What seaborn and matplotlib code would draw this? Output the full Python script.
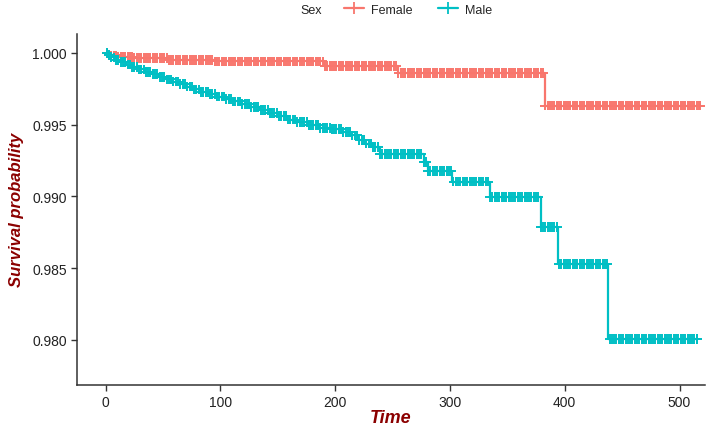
import numpy as np
import pandas as pd
import seaborn as sns
import matplotlib.pyplot as plt
from matplotlib.lines import Line2D

# Kaplan-Meier step data
female_time = [0, 3, 10, 25, 55, 95, 190, 255, 383, 518]
female_surv = [1.0, 0.99982, 0.99972, 0.99963, 0.99952, 0.9994, 0.99907, 0.99861, 0.99633, 0.99633]

male_time = [0, 2, 5, 9, 13, 18, 23, 28, 34, 40, 46, 52, 58, 64, 70, 76, 83, 90, 97, 104,
             111, 118, 126, 134, 142, 150, 158, 166, 176, 186, 196, 206, 214, 220, 226, 233,
             239, 277, 281, 302, 335, 379, 394, 438, 515]
male_surv = [1.0, 0.99985, 0.99968, 0.9995, 0.99935, 0.99918, 0.99902, 0.99885, 0.99868, 0.99851,
             0.99833, 0.99815, 0.998, 0.99783, 0.99765, 0.99745, 0.99728, 0.99712, 0.99695, 0.99678,
             0.99662, 0.99642, 0.99622, 0.99602, 0.99582, 0.99562, 0.99535, 0.99518, 0.99498, 0.99478,
             0.99468, 0.9945, 0.99425, 0.99395, 0.99368, 0.99345, 0.99296, 0.99238, 0.99179, 0.99103,
             0.98994, 0.98787, 0.98527, 0.98006, 0.98006]

# censoring times (marks drawn as "+")
censor_times = [1, 3, 5, 7, 9, 11, 13, 15, 17, 19, 21, 23, 25, 27, 29, 31, 33, 35, 37, 39,
                41, 43, 45, 47, 49, 51, 53, 55, 57, 59, 61, 63, 65, 67, 69, 71, 73, 75, 77, 79,
                81, 83, 85, 87, 89, 91, 93, 95, 97, 99, 101, 103, 105, 107, 109, 111, 113, 115, 117, 119,
                121, 123, 125, 127, 129, 131, 133, 135, 137, 139, 141, 143, 145, 147, 149, 151, 153, 155, 157, 159,
                161, 163, 165, 167, 169, 171, 173, 175, 177, 179, 181, 183, 185, 187, 189, 191, 193, 195, 197, 199,
                201, 203, 205, 207, 209, 211, 213, 215, 217, 219, 221, 223, 225, 227, 229, 231, 233, 235, 237, 239,
                241, 243, 245, 247, 249, 251, 253, 255, 257, 259, 261, 263, 265, 267, 269, 271, 273, 275, 277, 279,
                281, 283, 285, 287, 289, 291, 293, 295, 297, 299, 301, 303, 305, 307, 309, 311, 313, 315, 317, 319,
                321, 323, 325, 327, 329, 331, 333, 335, 337, 339, 341, 343, 345, 347, 349, 351, 353, 355, 357, 359,
                361, 363, 365, 367, 369, 371, 373, 375, 377, 379, 381, 383, 385, 387, 389, 391, 393, 395, 397, 399,
                401, 403, 405, 407, 409, 411, 413, 415, 417, 419, 421, 423, 425, 427, 429, 431, 433, 435, 437, 439,
                441, 443, 445, 447, 449, 451, 453, 455, 457, 459, 461, 463, 465, 467, 469, 471, 473, 475, 477, 479,
                481, 483, 485, 487, 489, 491, 493, 495, 497, 499, 501, 503, 505, 507, 509, 511, 513, 515, 517]

groups = ['Female', 'Male']
colors = {'Female': '#F8766D', 'Male': '#00BFC4'}

curves = pd.concat([
    pd.DataFrame({'Time': female_time, 'Surv': female_surv, 'Sex': 'Female'}),
    pd.DataFrame({'Time': male_time, 'Surv': male_surv, 'Sex': 'Male'}),
])

def censor_points(times, surv, name):
    times = np.array(times)
    surv = np.array(surv)
    ct = np.array([c for c in censor_times if c <= times[-1]] + [times[-1]])
    idx = np.searchsorted(times, ct, side='right') - 1
    return pd.DataFrame({'Time': ct, 'Surv': surv[idx], 'Sex': name})

marks = pd.concat([
    censor_points(female_time, female_surv, 'Female'),
    censor_points(male_time, male_surv, 'Male'),
])

sns.set_theme(style='ticks')
plt.rcParams['font.family'] = ['Liberation Sans', 'DejaVu Sans']

fig = plt.figure(figsize=(7.09, 4.31), dpi=100)
ax = fig.add_axes([0.109, 0.105, 0.885, 0.814])

sns.lineplot(data=curves, x='Time', y='Surv', hue='Sex', palette=colors,
             estimator=None, drawstyle='steps-post', linewidth=1.6, legend=False, ax=ax)
sns.scatterplot(data=marks, x='Time', y='Surv', hue='Sex', palette=colors,
                marker='+', s=48, linewidth=1.4, legend=False, ax=ax, zorder=3)

ax.set_xlim(-24.8, 522)
ax.set_ylim(0.97688, 1.00132)
ax.set_xticks([0, 100, 200, 300, 400, 500])
ax.set_yticks([0.980, 0.985, 0.990, 0.995, 1.000])
ax.set_yticklabels(['0.980', '0.985', '0.990', '0.995', '1.000'])
ax.tick_params(axis='both', labelsize=10, colors='#333333', length=4, width=1, labelcolor='#222222')
for side in ['left', 'bottom']:
    ax.spines[side].set_color('#333333')
    ax.spines[side].set_linewidth(1.1)
sns.despine(ax=ax)

ax.set_xlabel('Time', fontsize=13, fontweight='bold', fontstyle='italic', color='#8B0000', labelpad=0)
ax.set_ylabel('Survival probability', fontsize=12, fontweight='bold', fontstyle='italic',
              color='#8B0000', labelpad=6)

handles = [Line2D([0], [0], color=colors[g], marker='+', markersize=9, markeredgewidth=1.3,
                  linewidth=1.6) for g in groups]
fig.text(0.423, 0.975, 'Sex', fontsize=9, va='center', ha='left', color='#222222')
fig.legend(handles, groups, loc='center', bbox_to_anchor=(0.59, 0.975), ncol=2, frameon=False,
           fontsize=9, handlelength=1.6, columnspacing=2.0, handletextpad=0.6)

fig.savefig('out.png', dpi=100)
